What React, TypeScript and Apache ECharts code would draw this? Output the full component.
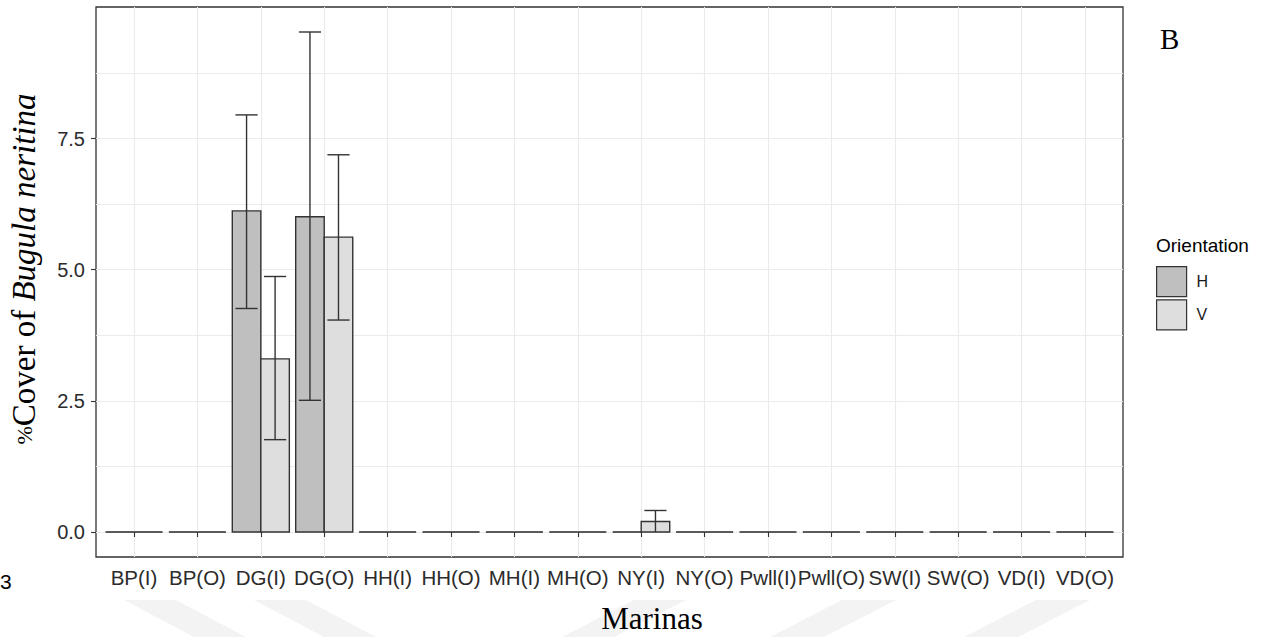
import React, { useEffect, useRef } from 'react';
import * as echarts from 'echarts';

const categories = ['BP(I)', 'BP(O)', 'DG(I)', 'DG(O)', 'HH(I)', 'HH(O)', 'MH(I)', 'MH(O)', 'NY(I)', 'NY(O)', 'Pwll(I)', 'Pwll(O)', 'SW(I)', 'SW(O)', 'VD(I)', 'VD(O)'];
const hMean = [0, 0, 6.12, 6.01, 0, 0, 0, 0, 0, 0, 0, 0, 0, 0, 0, 0];
const hLow = [null, null, 4.26, 2.51, null, null, null, null, null, null, null, null, null, null, null, null];
const hHigh = [null, null, 7.95, 9.53, null, null, null, null, null, null, null, null, null, null, null, null];
const vMean = [0, 0, 3.30, 5.62, 0, 0, 0, 0, 0.2, 0, 0, 0, 0, 0, 0, 0];
const vLow = [null, null, 1.76, 4.04, null, null, null, null, 0, null, null, null, null, null, null, null];
const vHigh = [null, null, 4.87, 7.19, null, null, null, null, 0.41, null, null, null, null, null, null, null];
const yMajorTicks = [0, 2.5, 5, 7.5];
const yAllGrid = [0, 1.25, 2.5, 3.75, 5, 6.25, 7.5, 8.75];
const seriesNames = ['H', 'V'];
const seriesColors = ['#BFBFBF', '#DEDEDE'];

const BAR_W = 0.45;
const CAP_W = 0.35;
const EDGE = '#333333';

function makeRender(offset: number, fill: string) {
  return (_params: any, api: any) => {
    const x = api.value(0) as number;
    const v = api.value(1) as number;
    const lo = api.value(2) as number;
    const hi = api.value(3) as number;
    const tl = api.coord([x + offset - BAR_W / 2, v]);
    const br = api.coord([x + offset + BAR_W / 2, 0]);
    const children: any[] = [];
    if (v > 0) {
      children.push({
        type: 'rect',
        shape: { x: tl[0], y: tl[1], width: br[0] - tl[0], height: br[1] - tl[1] },
        style: { fill, stroke: EDGE, lineWidth: 1.4 },
      });
    } else {
      children.push({
        type: 'line',
        shape: { x1: tl[0], y1: br[1], x2: br[0], y2: br[1] },
        style: { stroke: EDGE, lineWidth: 1.6 },
      });
    }
    if (lo != null && hi != null && Number.isFinite(lo) && Number.isFinite(hi)) {
      const c = api.coord([x + offset, hi]);
      const d = api.coord([x + offset, lo]);
      const capL = api.coord([x + offset - CAP_W / 2, hi])[0];
      const capR = api.coord([x + offset + CAP_W / 2, hi])[0];
      const es = { stroke: EDGE, lineWidth: 1.4 };
      children.push({ type: 'line', shape: { x1: c[0], y1: c[1], x2: d[0], y2: d[1] }, style: es });
      children.push({ type: 'line', shape: { x1: capL, y1: c[1], x2: capR, y2: c[1] }, style: es });
      if (lo > 0) {
        children.push({ type: 'line', shape: { x1: capL, y1: d[1], x2: capR, y2: d[1] }, style: es });
      }
    }
    return { type: 'group', children };
  };
}

const sans = "'Liberation Sans', Arial, sans-serif";
const serif = "'Liberation Serif', 'Times New Roman', serif";
const labelColor = '#2B2B2B';

export default function App() {
  const ref = useRef<HTMLDivElement>(null);
  useEffect(() => {
    const chart = echarts.init(ref.current!, null, { renderer: 'svg' });
    const makeData = (m: number[], l: (number | null)[], h: (number | null)[]) =>
      categories.map((_, i) => [i, m[i], l[i] == null ? NaN : l[i], h[i] == null ? NaN : h[i]]);
    const wm = '#F3F3F3';
    const option: any = {
      animation: false,
      backgroundColor: '#ffffff',
      grid: {
        left: 96, right: 139, top: 7, bottom: 80,
        show: true, borderColor: EDGE, borderWidth: 1.3, backgroundColor: 'transparent',
      },
      xAxis: {
        type: 'value', min: -0.6, max: 15.6,
        axisLine: { show: false },
        axisTick: { show: true, length: 5, customValues: categories.map((_, i) => i), lineStyle: { color: EDGE, width: 1.1 } },
        axisLabel: {
          customValues: categories.map((_, i) => i),
          formatter: (v: number) => categories[Math.round(v)] ?? '',
          color: labelColor, fontSize: 20.5, fontFamily: sans, margin: 10,
        },
        splitLine: { show: true, lineStyle: { color: '#EBEBEB', width: 1.1 } },
      },
      yAxis: [
        {
          type: 'value', min: -0.4765, max: 10.0065,
          axisLine: { show: false },
          axisTick: { show: false, customValues: yAllGrid },
          axisLabel: {
            customValues: yMajorTicks,
            formatter: (v: number) => v.toFixed(1),
            color: labelColor, fontSize: 20, fontFamily: sans, margin: 11,
          },
          splitLine: { show: true, lineStyle: { color: '#EBEBEB', width: 1.1 } },
        },
        {
          type: 'value', min: -0.4765, max: 10.0065, position: 'left',
          axisLine: { show: false },
          axisTick: { show: true, length: 5, customValues: yMajorTicks, lineStyle: { color: EDGE, width: 1.1 } },
          axisLabel: { show: false },
          splitLine: { show: false },
        },
      ],
      legend: {
        orient: 'vertical', left: 1156, top: 266, padding: 0,
        itemWidth: 30, itemHeight: 30, itemGap: 2,
        data: seriesNames.map((n) => ({ name: n, icon: 'rect' })),
        itemStyle: { borderColor: EDGE, borderWidth: 1.2 },
        textStyle: { fontSize: 16, color: '#1A1A1A', fontFamily: sans, padding: [0, 0, 0, 5] },
        selectedMode: false,
      },
      series: [
        {
          name: seriesNames[0], type: 'custom', yAxisIndex: 0,
          itemStyle: { color: seriesColors[0], borderColor: EDGE, borderWidth: 1.2 },
          renderItem: makeRender(-BAR_W / 2, seriesColors[0]),
          data: makeData(hMean, hLow, hHigh),
          silent: true,
        },
        {
          name: seriesNames[1], type: 'custom', yAxisIndex: 0,
          itemStyle: { color: seriesColors[1], borderColor: EDGE, borderWidth: 1.2 },
          renderItem: makeRender(BAR_W / 2, seriesColors[1]),
          data: makeData(vMean, vLow, vHigh),
          silent: true,
        },
      ],
      graphic: [
        { type: 'polygon', z: -10, silent: true, shape: { points: [[124, 600], [176, 600], [246, 637], [194, 637]] }, style: { fill: wm } },
        { type: 'polygon', z: -10, silent: true, shape: { points: [[254, 600], [306, 600], [376, 637], [324, 637]] }, style: { fill: wm } },
        { type: 'polygon', z: -10, silent: true, shape: { points: [[562, 637], [614, 637], [686, 600], [634, 600]] }, style: { fill: wm } },
        { type: 'polygon', z: -10, silent: true, shape: { points: [[770, 637], [824, 637], [896, 600], [842, 600]] }, style: { fill: wm } },
        { type: 'polygon', z: -10, silent: true, shape: { points: [[964, 637], [1018, 637], [1090, 600], [1036, 600]] }, style: { fill: wm } },
        {
          type: 'text', left: 1156, top: 236,
          style: { text: 'Orientation', fontSize: 19, fontFamily: sans, fill: '#000' },
        },
        {
          type: 'text', left: 1160, top: 24,
          style: { text: 'B', fontSize: 29, fontFamily: serif, fill: '#000' },
        },
        {
          type: 'text', left: 0, top: 571,
          style: { text: '3', fontSize: 21, fontFamily: sans, fill: '#000' },
        },
        {
          type: 'text', x: 652, y: 618,
          style: { text: 'Marinas', fontSize: 31, fontFamily: serif, fill: '#000', align: 'center', verticalAlign: 'middle' },
        },
        {
          type: 'text', x: 24, y: 269, rotation: Math.PI / 2,
          style: {
            text: '{p|%}{a|Cover of }{b|Bugula neritina}',
            align: 'center', verticalAlign: 'middle',
            rich: {
              p: { fontSize: 22, fontFamily: serif, fill: '#000' },
              a: { fontSize: 33, fontFamily: serif, fill: '#000' },
              b: { fontSize: 33, fontFamily: serif, fontStyle: 'italic', fill: '#000' },
            },
          },
        },
      ],
    };
    chart.setOption(option);
    return () => chart.dispose();
  }, []);
  return <div ref={ref} style={{ position: 'absolute', left: 0, top: 0, width: 1262, height: 637 }} />;
}
